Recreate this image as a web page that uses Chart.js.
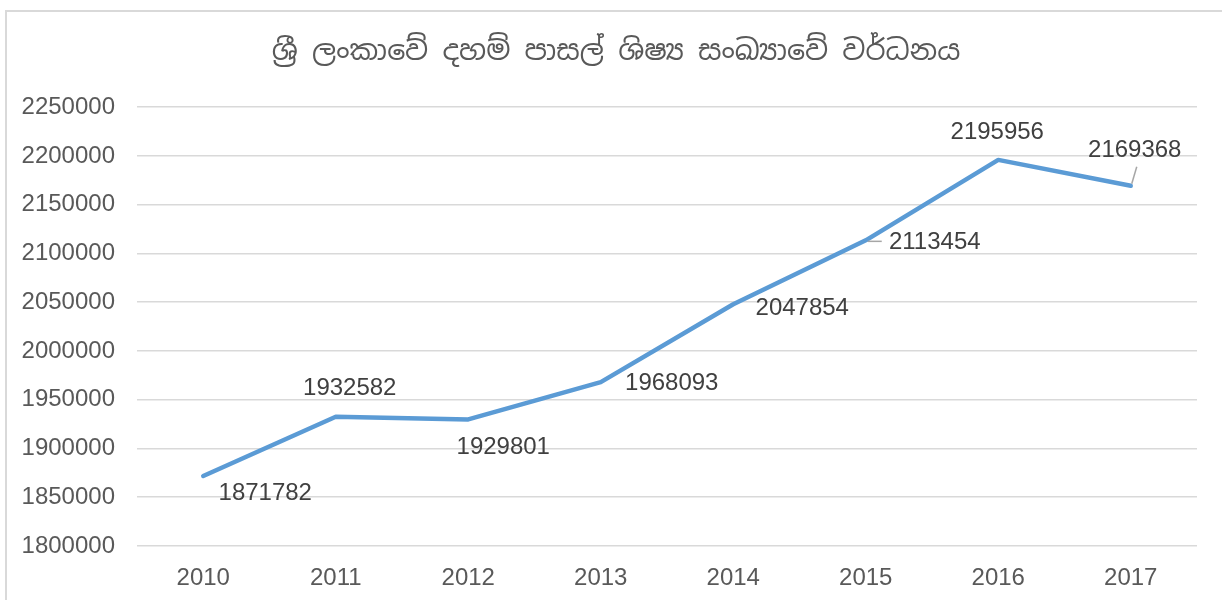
<!DOCTYPE html>
<html>
<head>
<meta charset="utf-8">
<script src="https://cdn.jsdelivr.net/npm/chart.js@4/dist/chart.umd.min.js"></script>
<style>
    html, body { margin: 0; padding: 0; background: #fff; }
    #wrap { width: 1222px; height: 600px; position: relative; }
</style>
</head>
<body>
<div id="wrap"><canvas id="myChart" width="1222" height="600"></canvas></div>
<script>
const years = ["2010", "2011", "2012", "2013", "2014", "2015", "2016", "2017"];
const students = [1871782, 1932582, 1929801, 1968093, 2047854, 2113454, 2195956, 2169368];
const chartTitle = "ශ්‍රී ලංකාවේ දහම් පාසල් ශිෂ්‍ය සංඛ්‍යාවේ වර්ධනය";

// where each data label sits relative to its point (Excel placed them by hand)
const labelOffsets = [
    [62, 17], [14, -28], [35, 28], [71, 1],
    [69, 4], [69, 2], [-1, -28], [4, -35]
];
const leaderLines = { 5: [[2, 1], [16, 1]], 7: [[1, -2], [6, -19]] };

const frame = {
    id: "frame",
    afterLayout(chart) {
        // nudge the title so it is centred where Excel put it
        if (chart.titleBlock) chart.titleBlock.left = 35;
    },
    beforeDraw(chart) {
        const c = chart.ctx;
        c.save();
        c.fillStyle = "#fff";
        c.fillRect(0, 0, chart.width, chart.height);
        c.strokeStyle = "#d9d9d9";
        c.lineWidth = 2;
        c.strokeRect(6, 11, chart.width + 20, chart.height + 20);
        c.restore();
    }
};

const pointLabels = {
    id: "pointLabels",
    afterDatasetsDraw(chart) {
        const c = chart.ctx;
        const pts = chart.getDatasetMeta(0).data;
        c.save();
        c.font = "24px 'Liberation Sans', Arial, sans-serif";
        c.fillStyle = "#404040";
        c.textAlign = "center";
        c.textBaseline = "middle";
        pts.forEach((p, i) => {
            const [dx, dy] = labelOffsets[i];
            if (leaderLines[i]) {
                const [a, b] = leaderLines[i];
                c.strokeStyle = "#a6a6a6";
                c.lineWidth = 1.5;
                c.beginPath();
                c.moveTo(p.x + a[0], p.y + a[1]);
                c.lineTo(p.x + b[0], p.y + b[1]);
                c.stroke();
            }
            c.fillText(String(students[i]), p.x + dx, p.y + dy);
        });
        c.restore();
    }
};

const ctx = document.getElementById("myChart").getContext("2d");
new Chart(ctx, {
    type: "line",
    data: {
        labels: years,
        datasets: [{
            data: students,
            borderColor: "#5b9bd5",
            borderWidth: 4.5,
            borderCapStyle: "round",
            borderJoinStyle: "round",
            pointRadius: 0,
            tension: 0,
            fill: false
        }]
    },
    options: {
        responsive: false,
        animation: false,
        layout: { padding: { left: 0, right: 25, top: 0, bottom: 0 } },
        plugins: {
            legend: { display: false },
            tooltip: { enabled: false },
            title: {
                display: true,
                text: chartTitle,
                color: "#595959",
                font: { size: 28.5, weight: "normal", family: "'Noto Sans Sinhala', 'Iskoola Pota', 'Noto Sans', sans-serif" },
                padding: { top: 35, bottom: 38 }
            }
        },
        scales: {
            x: {
                offset: true,
                grid: { display: false },
                border: { display: false },
                ticks: {
                    color: "#595959",
                    padding: 10,
                    font: { size: 24, family: "'Liberation Sans', Arial, sans-serif" }
                },
                afterFit(scale) { scale.height = 54; }
            },
            y: {
                min: 1800000,
                max: 2250000,
                grid: { color: "#d9d9d9", lineWidth: 1.5, drawTicks: false },
                border: { display: false },
                ticks: {
                    stepSize: 50000,
                    color: "#595959",
                    padding: 22,
                    font: { size: 24, family: "'Liberation Sans', Arial, sans-serif" },
                    callback: v => String(v)
                },
                afterFit(scale) { scale.width = 137; }
            }
        }
    },
    plugins: [frame, pointLabels]
});
</script>
</body>
</html>
